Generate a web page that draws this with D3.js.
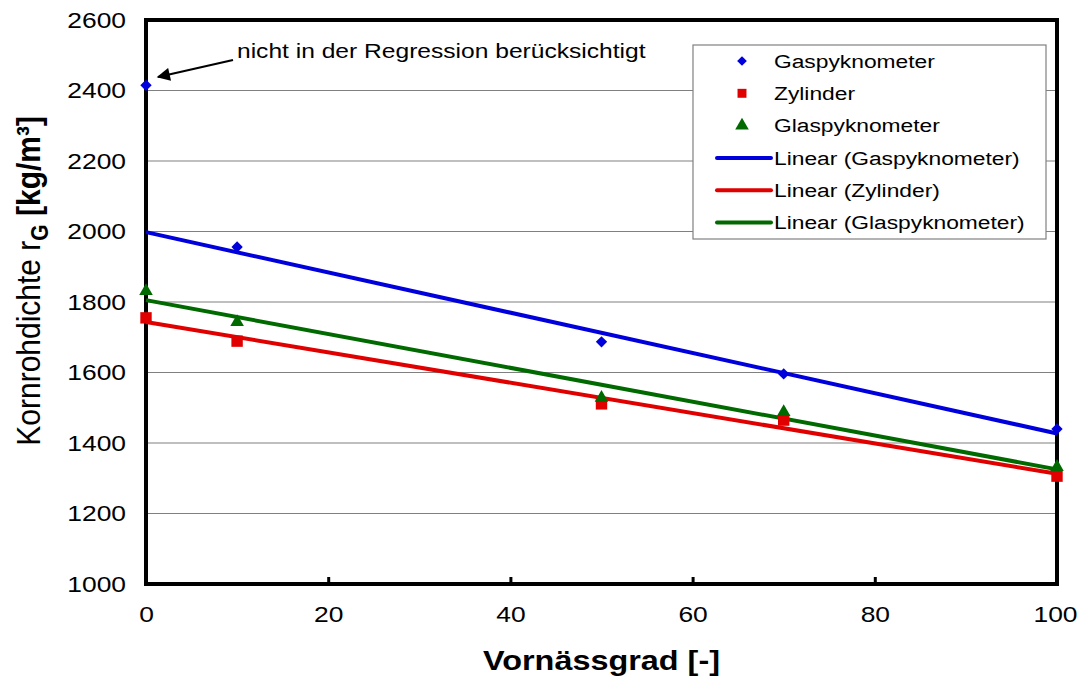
<!DOCTYPE html>
<html>
<head>
<meta charset="utf-8">
<script src="https://cdn.jsdelivr.net/npm/d3@7"></script>
<style>
  body { margin: 0; background: #fff; }
  text { font-family: "Liberation Sans", Arial, sans-serif; }
</style>
</head>
<body>
<svg id="chart" width="1078" height="679"></svg>
<script>
// Data
const xValues = [0, 10, 50, 70, 100];
const gaspyknometer = [2415, 1956, 1687, 1596, 1440];
const zylinder = [1755, 1689, 1511, 1465, 1306];
const glaspyknometer = [1831, 1743, 1528, 1488, 1332];
const xTicks = [0, 20, 40, 60, 80, 100];
const yTicks = [1000, 1200, 1400, 1600, 1800, 2000, 2200, 2400, 2600];

// Series setup (first Gaspyknometer point is excluded from regression)
const series = [
  { name: "Gaspyknometer", values: gaspyknometer, color: "#0000dd", shape: d3.symbolDiamond2, size: 82, skip: [0] },
  { name: "Zylinder", values: zylinder, color: "#e00000", shape: d3.symbolSquare, size: 130, skip: [] },
  { name: "Glaspyknometer", values: glaspyknometer, color: "#006a00", shape: d3.symbolTriangle, size: 80, skip: [] }
];

// Text in the original is drawn a bit wider than normal
const SX = 1.2;
function widen(sel) {
  sel.each(function() {
    const t = d3.select(this);
    const x0 = +t.attr("x") || 0;
    t.attr("transform", `translate(${x0},0) scale(${SX},1) translate(${-x0},0)`);
  });
}

// Least squares fit
function linearFit(xs, ys) {
  const mx = d3.mean(xs), my = d3.mean(ys);
  const sxy = d3.sum(xs, (x, i) => (x - mx) * (ys[i] - my));
  const sxx = d3.sum(xs, x => (x - mx) * (x - mx));
  const slope = sxy / sxx;
  return { slope, intercept: my - slope * mx };
}

const svg = d3.select("#chart");
const margin = { left: 146, right: 21, top: 20, bottom: 95 };
const width = 1078 - margin.left - margin.right;
const height = 679 - margin.top - margin.bottom;

const x = d3.scaleLinear().domain([0, 100]).range([margin.left, margin.left + width]);
const y = d3.scaleLinear().domain([1000, 2600]).range([margin.top + height, margin.top]);

// Gridlines
svg.append("g")
  .selectAll("line")
  .data(yTicks.slice(1, -1))
  .enter()
  .append("line")
  .attr("x1", x(0)).attr("x2", x(100))
  .attr("y1", d => y(d)).attr("y2", d => y(d))
  .attr("stroke", "#808080")
  .attr("stroke-width", 1.2);

// Y axis labels
const yAxis = svg.append("g")
  .attr("transform", `translate(${x(0)},0)`)
  .call(d3.axisLeft(y).tickValues(yTicks).tickSize(0).tickPadding(20).tickFormat(d3.format("d")));
yAxis.select(".domain").remove();
yAxis.selectAll("text").attr("font-size", 22).attr("fill", "#000")
  .attr("font-family", "Liberation Sans, Arial, sans-serif")
  .call(widen);

// X axis labels with inward ticks
const xAxis = svg.append("g")
  .attr("transform", `translate(0,${y(1000)})`)
  .call(d3.axisBottom(x).tickValues(xTicks).tickSize(-7).tickPadding(22).tickFormat(d3.format("d")));
xAxis.select(".domain").remove();
xAxis.selectAll("line").attr("stroke", "#000").attr("stroke-width", 3);
xAxis.selectAll("text").attr("font-size", 22).attr("fill", "#000")
  .attr("font-family", "Liberation Sans, Arial, sans-serif")
  .attr("x", d => (d === 100 ? -2 : 0))
  .call(widen);

// Frame
svg.append("rect")
  .attr("x", x(0)).attr("y", y(2600))
  .attr("width", width).attr("height", height)
  .attr("fill", "none")
  .attr("stroke", "#000")
  .attr("stroke-width", 4);

// Trend lines
series.forEach(s => {
  const xs = xValues.filter((d, i) => !s.skip.includes(i));
  const ys = s.values.filter((d, i) => !s.skip.includes(i));
  const fit = linearFit(xs, ys);
  svg.append("line")
    .attr("x1", x(0)).attr("y1", y(fit.intercept))
    .attr("x2", x(100)).attr("y2", y(fit.intercept + fit.slope * 100))
    .attr("stroke", s.color)
    .attr("stroke-width", 4);
});

// Markers
series.forEach(s => {
  svg.append("g")
    .selectAll("path")
    .data(s.values)
    .enter()
    .append("path")
    .attr("d", d3.symbol().type(s.shape).size(s.size)())
    .attr("transform", (d, i) => `translate(${x(xValues[i])},${y(d)})`)
    .attr("fill", s.color);
});

// Annotation
svg.append("text")
  .attr("x", 237).attr("y", 58)
  .attr("font-size", 20.5)
  .text("nicht in der Regression berücksichtigt")
  .call(widen);

svg.append("defs").append("marker")
  .attr("id", "arrow")
  .attr("viewBox", "0 0 10 10")
  .attr("refX", 9).attr("refY", 5)
  .attr("markerWidth", 7).attr("markerHeight", 6)
  .attr("markerUnits", "strokeWidth")
  .attr("orient", "auto")
  .append("path")
  .attr("d", "M0,0 L10,5 L0,10 Z")
  .attr("fill", "#000");

svg.append("line")
  .attr("x1", 233).attr("y1", 60)
  .attr("x2", 158).attr("y2", 77)
  .attr("stroke", "#000")
  .attr("stroke-width", 2.2)
  .attr("marker-end", "url(#arrow)");

// Legend
const legend = svg.append("g").attr("transform", "translate(693,45)");
legend.append("rect")
  .attr("width", 353).attr("height", 194)
  .attr("fill", "#fff")
  .attr("stroke", "#808080")
  .attr("stroke-width", 1.2);

const legendItems = [
  ...series.map(s => ({ label: s.name, color: s.color, shape: s.shape })),
  ...series.map(s => ({ label: `Linear (${s.name})`, color: s.color, line: true }))
];

legendItems.forEach((item, i) => {
  const row = legend.append("g").attr("transform", `translate(0,${16 + i * 32.3})`);
  if (item.line) {
    row.append("line")
      .attr("x1", 24).attr("x2", 78)
      .attr("stroke", item.color)
      .attr("stroke-width", 4)
      .attr("stroke-linecap", "round");
  } else {
    row.append("path")
      .attr("d", d3.symbol().type(item.shape).size(item.shape === d3.symbolDiamond2 ? 60 : 80)())
      .attr("transform", "translate(49,0)")
      .attr("fill", item.color);
  }
  row.append("text")
    .attr("x", 81).attr("dy", "0.35em")
    .attr("font-size", 19)
    .text(item.label)
    .call(widen);
});

// Axis titles
svg.append("text")
  .attr("x", x(50)).attr("y", 670)
  .attr("text-anchor", "middle")
  .attr("font-size", 27)
  .attr("font-weight", "bold")
  .text("Vornässgrad [-]")
  .call(widen);

const yTitle = svg.append("text")
  .attr("transform", `translate(40,${y(1860)}) scale(1.1,1) rotate(-90)`)
  .attr("text-anchor", "middle")
  .attr("font-size", 30);
yTitle.append("tspan").text("Kornrohdichte r");
yTitle.append("tspan").attr("font-weight", "bold").attr("font-size", 21).attr("dy", 7).text("G");
yTitle.append("tspan").attr("font-weight", "bold").attr("dy", -7).text(" [kg/m³]");
</script>
</body>
</html>
